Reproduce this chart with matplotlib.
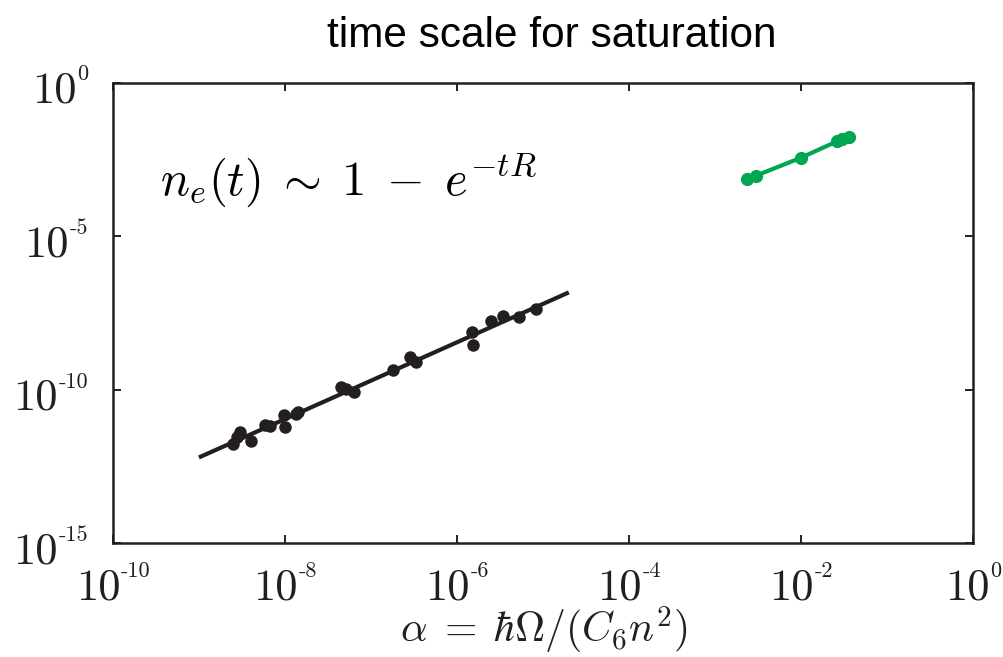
import numpy as np
import matplotlib.pyplot as plt

plt.rcParams['mathtext.fontset'] = 'cm'

# black data set: alpha vs saturation rate
black_x = [2.49e-9, 2.74e-9, 2.99e-9, 4.08e-9, 5.82e-9, 6.79e-9, 9.77e-9, 9.95e-9,
           1.36e-8, 1.41e-8, 4.45e-8, 5.18e-8, 6.30e-8, 1.80e-7, 2.87e-7, 3.30e-7,
           1.51e-6, 1.53e-6, 2.50e-6, 3.48e-6, 5.24e-6, 8.34e-6]
black_y = [1.75e-12, 2.87e-12, 4.17e-12, 2.12e-12, 7.43e-12, 6.53e-12, 1.46e-11, 6.40e-12,
           1.66e-11, 1.87e-11, 1.28e-10, 1.10e-10, 8.81e-11, 4.48e-10, 1.21e-9, 8.34e-10,
           7.48e-9, 2.91e-9, 1.80e-8, 2.62e-8, 2.31e-8, 4.33e-8]
# fitted line for the black set (end points)
fit_x = [1e-9, 2e-5]
fit_y = [6.3e-13, 1.48e-7]

# green data set
green_x = [2.39e-3, 3.04e-3, 9.98e-3, 2.65e-2, 3.03e-2, 3.63e-2]
green_y = [7.35e-4, 9.42e-4, 3.55e-3, 1.23e-2, 1.47e-2, 1.75e-2]

xtick_exp = [-10, -8, -6, -4, -2, 0]
ytick_exp = [-15, -10, -5, 0]

dark = '#231f20'
green = '#00a651'

fig = plt.figure(figsize=(10.04, 6.57), dpi=100)
ax = fig.add_axes([0.1125, 0.1728, 0.8565, 0.7016])
ax.set_xscale('log')
ax.set_yscale('log')
ax.set_xlim(1e-10, 1e0)
ax.set_ylim(1e-15, 1e0)

ax.plot(fit_x, fit_y, color=dark, lw=3.0, solid_capstyle='butt')
ax.plot(black_x, black_y, 'o', color=dark, ms=9, mec='none')
ax.plot(green_x, green_y, '-o', color=green, lw=3.0, ms=9.5, mec='none')

ax.set_xticks([10.0 ** e for e in xtick_exp])
ax.set_yticks([10.0 ** e for e in ytick_exp])
ax.minorticks_off()
ax.tick_params(which='both', direction='in', top=True, right=True,
               length=6, width=1.4, color=dark,
               labelbottom=False, labelleft=False)
for s in ax.spines.values():
    s.set_linewidth(1.8)
    s.set_color(dark)

BIG, SMALL = 32, 16
big = dict(family='cmr10', size=BIG, color=dark, annotation_clip=False)
small = dict(family='cmr10', size=SMALL, color=dark, annotation_clip=False)


def exp_width(s):
    # rough width in points of the small exponent text
    return sum(0.333 if c == '-' else 0.5 for c in s) * SMALL


# tick labels as big "10" + small raised exponent (matlab look)
for e in xtick_exp:
    s = str(e)
    join = (BIG - exp_width(s)) / 2
    ax.annotate('10', (10.0 ** e, 0), xycoords=('data', 'axes fraction'),
                xytext=(join, -40.5), textcoords='offset points',
                ha='right', va='baseline', **big)
    ax.annotate(s, (10.0 ** e, 0), xycoords=('data', 'axes fraction'),
                xytext=(join + 0.5, -24.5), textcoords='offset points',
                ha='left', va='baseline', **small)

for e in ytick_exp:
    s = str(e)
    ax.annotate(s, (0, 10.0 ** e), xycoords=('axes fraction', 'data'),
                xytext=(-18, 1.5), textcoords='offset points',
                ha='right', va='baseline', **small)
    ax.annotate('10', (0, 10.0 ** e), xycoords=('axes fraction', 'data'),
                xytext=(-18.5 - exp_width(s), -14.3), textcoords='offset points',
                ha='right', va='baseline', **big)

ax.text(0.055, 0.756, r'$n_e(t) \;\sim\; 1 \;-\; e^{-tR}$', transform=ax.transAxes,
        fontsize=35, ha='left', va='baseline', color='black')

ax.set_title('time scale for saturation', family='Liberation Sans', fontsize=30.5,
             pad=25.5, x=0.5105)
fig.text(0.5415, 1 - 643 / 657, r'$\alpha \;=\; \hbar\Omega/(C_6n^2)$', fontsize=30,
         ha='center', va='baseline', color=dark)

fig.savefig('out.png', dpi=100)
